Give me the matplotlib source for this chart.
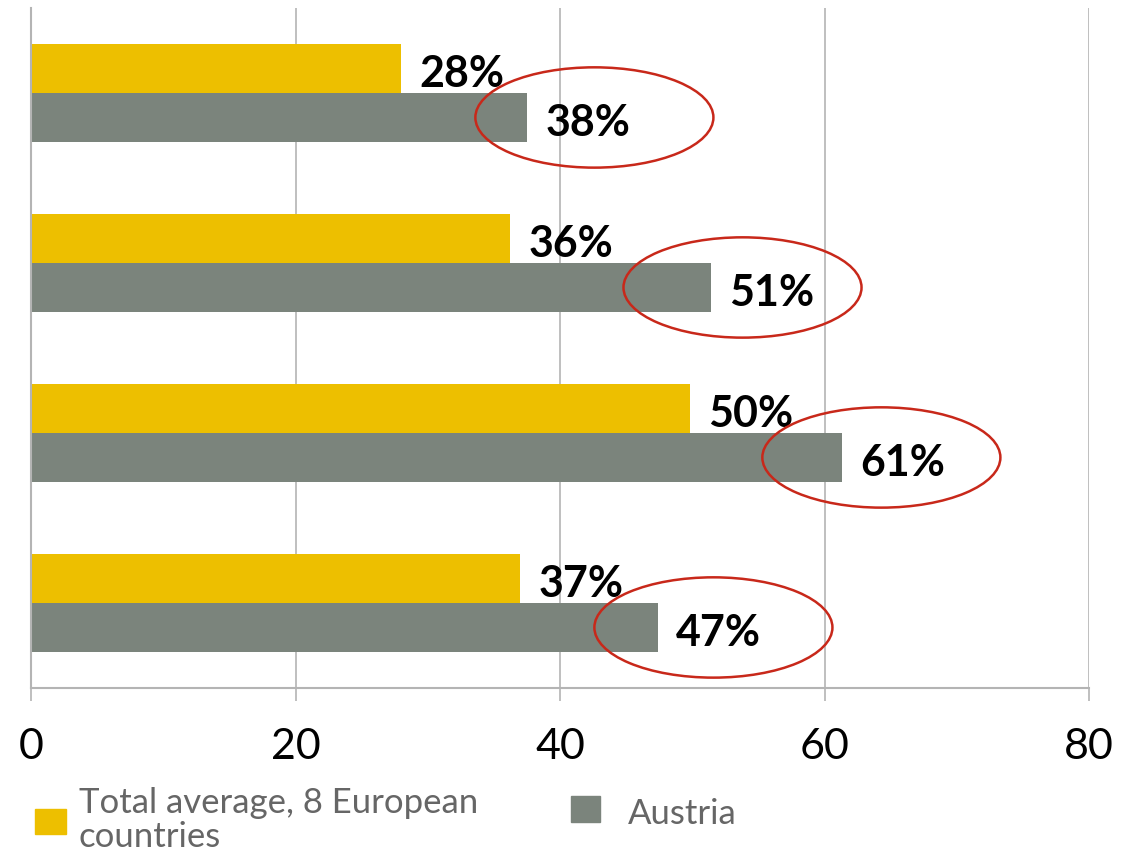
import matplotlib
matplotlib.use("Agg")
import matplotlib.pyplot as plt
from matplotlib.patches import Ellipse, Rectangle
import numpy as np

## chart data
series_names = ["Total average, 8 European\ncountries", "Austria"]
europe_vals = [28.0, 36.2, 49.8, 37.0]
austria_vals = [37.5, 51.4, 61.3, 47.4]
europe_labels = ["28%", "36%", "50%", "37%"]
austria_labels = ["38%", "51%", "61%", "47%"]
x_ticks = [0, 20, 40, 60, 80]
# red rings around the Austria values (x centre in data units)
ring_x = [42.6, 53.8, 64.3, 51.6]

YELLOW = "#EDBF00"
GREY = "#7B847C"
RED = "#C8281A"
LINE = "#B4B4B4"

plt.rcParams['font.family'] = ['Lato', 'DejaVu Sans']

W, H = 1140, 851
fig = plt.figure(figsize=(W / 100, H / 100), dpi=100)
ax = fig.add_axes([31 / W, 1 - 688 / H, (1089 - 31) / W, (688 - 8) / H])

n = len(europe_vals)
pos = np.arange(n)
h = 0.288
ax.barh(pos - h / 2, europe_vals, height=h, color=YELLOW, zorder=2)
ax.barh(pos + h / 2, austria_vals, height=h, color=GREY, zorder=2)

ax.set_xlim(0, 80)
ax.set_ylim(n - 0.5, -0.5)
ax.set_xticks(x_ticks)
ax.set_yticks([])
ax.xaxis.grid(True, color=LINE, linewidth=1.2, zorder=0)
ax.set_axisbelow(True)
for s in ["top", "right"]:
    ax.spines[s].set_visible(False)
for s in ["left", "bottom"]:
    ax.spines[s].set_color(LINE)
    ax.spines[s].set_linewidth(1.5)
ax.tick_params(axis="x", direction="out", length=9, width=1.2, color=LINE,
               labelsize=31, pad=20, labelcolor="black")

## value labels
for i in range(n):
    ax.text(europe_vals[i] + 1.4, pos[i] - h / 2 + 0.035, europe_labels[i],
            fontsize=31, fontweight="bold", va="center", ha="left", zorder=4)
    ax.text(austria_vals[i] + 1.4, pos[i] + h / 2 + 0.035, austria_labels[i],
            fontsize=31, fontweight="bold", va="center", ha="left", zorder=4)
    ax.add_patch(Ellipse((ring_x[i], pos[i] + h / 2), 18.0, 0.59, fill=False,
                         edgecolor=RED, linewidth=1.8, zorder=5, clip_on=False))

## legend drawn by hand
def fx(x):
    return x / W

def fy(y):
    return 1 - y / H

fig.add_artist(Rectangle((fx(35), fy(834)), fx(31), 25 / H, color=YELLOW))
fig.text(fx(79), fy(820), series_names[0], fontsize=25, color="#666666",
         va="center", ha="left", linespacing=1.05)
fig.add_artist(Rectangle((fx(571), fy(822)), fx(29), 26 / H, color=GREY))
fig.text(fx(628), fy(814), series_names[1], fontsize=25, color="#666666",
         va="center", ha="left")

fig.savefig("out.png", dpi=100)
